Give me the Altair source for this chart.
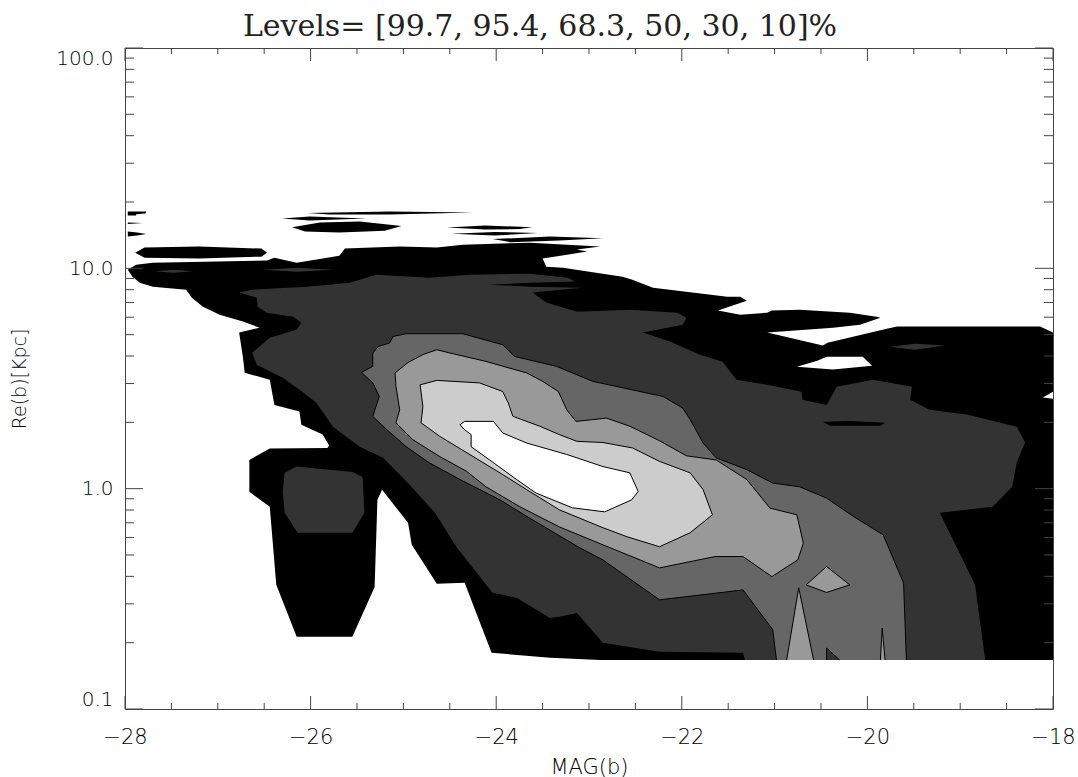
import altair as alt
import pandas as pd

# ---------------- text ----------------
TITLE = "Levels= [99.7, 95.4, 68.3, 50, 30, 10]%"
X_TITLE = "MAG(b)"
Y_TITLE = "Re(b)[Kpc]"

# ---------------- axis ticks ----------------
X_MAJOR = [-28, -26, -24, -22, -20, -18]
X_MINOR = [-27.5, -27, -26.5, -25.5, -25, -24.5, -23.5, -23, -22.5,
           -21.5, -21, -20.5, -19.5, -19, -18.5]
Y_MAJOR = [0.1, 1, 10, 100]
Y_MINOR = [0.2, 0.3, 0.4, 0.5, 0.6, 0.7, 0.8, 0.9,
           2, 3, 4, 5, 6, 7, 8, 9,
           20, 30, 40, 50, 60, 70, 80, 90]

# ---------------- contour polygons (MAG, Re) ----------------
# level 99.7% (black) main region
BLACK_MAIN_MAG = [-27.97, -27.88, -27.70, -26.47, -26.39, -26.15, -25.69, -25.63, -25.04, -24.64,
                  -24.36, -23.64, -22.88, -23.13, -23.02, -23.50, -23.46, -23.28, -22.64, -22.54,
                  -22.31, -21.51, -21.37, -21.30, -21.61, -21.37, -21.08, -21.03, -20.73, -20.19,
                  -19.90, -19.86, -20.08, -20.37, -21.08, -20.48, -20.43, -19.79, -19.68, -18.14,
                  -18.00, -18.00, -22.88, -23.42, -24.05, -24.34, -24.64, -24.91, -24.95, -25.23,
                  -25.28, -25.31, -25.55, -26.15, -26.37, -26.44, -26.66, -26.66, -26.44, -25.82,
                  -25.80, -25.87, -26.10, -26.12, -26.39, -26.44, -26.71, -26.73, -26.77, -26.55,
                  -26.73, -26.98, -27.16, -27.28, -27.34, -27.70, -27.84, -27.92]
BLACK_MAIN_RE = [9.86, 10.39, 10.61, 10.84, 11.18, 10.61, 11.42, 12.29, 12.55, 12.42,
                 12.81, 13.08, 12.55, 12.16, 11.91, 11.07, 10.18, 10.07, 9.17, 8.89,
                 8.17, 7.44, 7.44, 7.13, 6.43, 6.16, 6.29, 6.43, 6.49, 6.29,
                 6.03, 5.97, 5.55, 5.38, 5.11, 4.46, 4.60, 5.32, 5.44, 5.44,
                 5.11, 0.167, 0.167, 0.171, 0.180, 0.374, 0.370, 0.556, 0.700, 0.989,
                 0.890, 0.358, 0.213, 0.213, 0.366, 0.828, 0.968, 1.35, 1.52, 1.53,
                 1.57, 1.76, 1.95, 2.24, 2.40, 3.12, 3.36, 3.97, 5.11, 5.38,
                 5.73, 6.16, 6.70, 7.36, 8.00, 8.26, 8.61, 9.17]
# black strands above the main body
STRAND_B1_MAG = [-27.89, -27.79, -27.20, -26.53, -26.47, -26.53, -27.20, -27.79]
STRAND_B1_RE = [11.78, 12.42, 12.55, 12.29, 11.78, 11.30, 11.07, 11.18]
MARK_1_MAG = [-27.97, -27.77, -27.78, -27.88, -27.88, -27.97]
MARK_1_RE = [18.09, 18.09, 17.72, 17.60, 17.35, 17.35]
MARK_2_MAG = [-27.97, -27.81, -27.97]
MARK_2_RE = [16.13, 16.04, 15.88]
MARK_3_MAG = [-27.97, -27.87, -27.77, -27.87, -27.97]
MARK_3_RE = [14.68, 14.53, 14.30, 14.08, 13.93]
STRAND_A_MAG = [-26.31, -26.01, -25.40, -26.01]
STRAND_A_RE = [16.82, 17.17, 16.82, 16.47]
STRAND_B_MAG = [-26.03, -25.15, -24.25, -25.15, -25.80]
STRAND_B_RE = [17.81, 18.09, 17.90, 17.53, 17.53]
STRAND_C_MAG = [-26.20, -25.90, -25.47, -25.02, -25.20, -25.69, -26.06]
STRAND_C_RE = [15.38, 16.13, 16.30, 15.55, 14.83, 14.53, 14.68]
STRAND_E_MAG = [-24.53, -24.12, -23.61, -23.75, -24.12]
STRAND_E_RE = [15.31, 15.63, 15.38, 15.07, 14.99]
STRAND_F_MAG = [-24.48, -24.02, -23.55, -24.02]
STRAND_F_RE = [14.37, 14.63, 14.45, 14.08]
STRAND_G_MAG = [-24.04, -23.42, -22.85, -23.32, -23.85]
STRAND_G_RE = [13.57, 13.93, 13.71, 13.36, 13.15]
# white holes inside the black region
HOLE_W1_MAG = [-20.76, -20.54, -20.44, -20.05, -19.95, -20.37]
HOLE_W1_RE = [3.58, 3.81, 3.97, 3.97, 3.61, 3.47]
HOLE_W2_MAG = [-18.11, -18.00, -18.00]
HOLE_W2_RE = [2.59, 2.75, 2.56]
# level 95.4% (dark grey)
G333_MAG = [-26.77, -26.63, -26.04, -25.58, -25.29, -24.72, -24.29, -23.64, -23.23, -23.15,
            -23.64, -24.07, -23.64, -23.07, -23.61, -23.46, -23.13, -22.56, -22.05, -21.95,
            -21.99, -22.42, -22.13, -21.81, -21.56, -21.41, -21.08, -20.71, -20.70, -20.44,
            -20.33, -19.94, -19.52, -19.54, -19.33, -18.93, -18.39, -18.30, -18.39, -18.44,
            -18.65, -19.22, -18.84, -18.73, -21.32, -21.34, -22.24, -22.85, -23.13, -23.32,
            -23.42, -23.78, -24.04, -24.43, -24.66, -24.93, -25.22, -25.47, -25.76, -25.94,
            -26.09, -26.30, -26.41, -26.58, -26.63, -26.44, -26.15, -26.10, -26.19, -26.47,
            -26.57, -26.58]
G333_RE = [7.76, 8.00, 8.26, 8.61, 9.36, 9.07, 9.36, 9.46, 9.07, 8.71,
           8.61, 8.43, 8.26, 8.17, 7.76, 6.99, 6.36, 6.49, 6.29, 5.97,
           5.55, 5.11, 4.65, 4.06, 3.77, 3.12, 2.96, 2.75, 2.53, 2.40,
           2.90, 3.12, 2.90, 2.53, 2.28, 2.17, 1.91, 1.62, 1.32, 1.02,
           0.828, 0.777, 0.366, 0.167, 0.167, 0.180, 0.182, 0.200, 0.273, 0.262,
           0.259, 0.320, 0.337, 0.545, 0.777, 1.04, 1.38, 1.55, 1.91, 2.46,
           2.75, 3.19, 3.36, 3.65, 4.14, 4.84, 5.27, 5.67, 6.03, 6.29,
           6.70, 7.36]
ISLAND_1_MAG = [-27.68, -27.48, -27.27, -27.48]
ISLAND_1_RE = [9.71, 9.86, 9.71, 9.56]
ISLAND_2_MAG = [-26.52, -26.14, -25.76, -26.14]
ISLAND_2_RE = [9.86, 10.07, 9.86, 9.66]
ISLAND_3_MAG = [-19.76, -19.49, -19.16, -19.49]
ISLAND_3_RE = [4.41, 4.55, 4.46, 4.27]
BLOB_MAG = [-26.28, -26.15, -25.55, -25.44, -25.42, -25.55, -26.14, -26.28, -26.30]
BLOB_RE = [1.18, 1.26, 1.19, 1.13, 0.777, 0.631, 0.631, 0.777, 0.968]
SLIVER_MAG = [-20.48, -20.19, -19.81, -19.86, -20.40]
SLIVER_RE = [2.01, 2.03, 1.99, 1.93, 1.93]
# level 68.3%
G666_MAG = [-20.98, -21.02, -21.34, -22.24, -22.85, -23.10, -23.39, -23.67, -23.96, -24.39,
            -24.72, -24.97, -25.22, -25.33, -25.26, -25.33, -25.45, -25.33, -25.33, -25.27,
            -25.15, -25.11, -24.97, -24.36, -23.93, -23.80, -23.35, -22.96, -22.20, -21.99,
            -21.91, -21.77, -21.63, -21.30, -21.02, -20.73, -20.44, -20.15, -19.83, -19.61,
            -19.58]
G666_RE = [0.167, 0.229, 0.347, 0.313, 0.475, 0.539, 0.637, 0.748, 0.890, 1.10,
           1.31, 1.55, 1.92, 2.13, 2.62, 3.02, 3.37, 3.59, 4.13, 4.42,
           4.58, 4.91, 5.05, 5.05, 4.50, 3.98, 3.59, 3.07, 2.62, 2.32,
           2.06, 1.61, 1.38, 1.22, 1.06, 1.02, 0.906, 0.748, 0.617, 0.373,
           0.167]
NOTCH_MAG = [-20.44, -20.44, -20.30]
NOTCH_RE = [0.167, 0.189, 0.167]
# level 50%
G999_MAG = [-25.09, -24.95, -24.79, -24.64, -24.50, -24.11, -23.67, -23.50, -23.33, -23.24,
            -23.14, -22.81, -22.56, -22.24, -21.95, -21.63, -21.30, -21.05, -20.76, -20.69,
            -20.75, -21.03, -21.34, -21.64, -22.24, -22.56, -22.85, -23.32, -23.75, -24.11,
            -24.32, -24.61, -24.90, -25.08, -25.04, -25.08]
G999_RE = [3.35, 3.74, 4.06, 4.27, 4.13, 3.78, 3.35, 3.07, 2.76, 2.28,
           2.02, 2.09, 1.92, 1.65, 1.41, 1.35, 1.10, 0.816, 0.761, 0.566,
           0.475, 0.399, 0.492, 0.492, 0.437, 0.496, 0.556, 0.671, 0.830, 1.02,
           1.20, 1.40, 1.67, 1.99, 2.28, 2.91]
SPIKE_1_MAG = [-20.87, -20.74, -20.58]
SPIKE_1_RE = [0.167, 0.355, 0.167]
DIAMOND_MAG = [-20.66, -20.44, -20.19, -20.44]
DIAMOND_RE = [0.366, 0.443, 0.366, 0.338]
SPIKE_2_MAG = [-19.86, -19.84, -19.81]
SPIKE_2_RE = [0.167, 0.233, 0.167]
# level 30%
GCCC_MAG = [-24.82, -24.64, -24.18, -23.93, -23.87, -23.82, -23.53, -23.32, -23.13, -22.85,
            -22.53, -22.24, -21.91, -21.77, -21.67, -21.91, -22.24, -22.59, -22.85, -23.32,
            -23.67, -23.96, -24.25, -24.61, -24.81, -24.79]
GCCC_RE = [2.96, 3.10, 3.02, 2.76, 2.45, 2.13, 1.92, 1.76, 1.64, 1.62,
           1.53, 1.33, 1.18, 0.989, 0.761, 0.631, 0.545, 0.605, 0.665, 0.802,
           0.989, 1.18, 1.40, 1.73, 1.99, 2.36]
# level 10% (white core)
CORE_MAG = [-24.39, -24.34, -24.03, -23.93, -23.67, -23.24, -22.85, -22.56, -22.47, -22.54,
            -22.83, -23.18, -23.57, -23.78, -24.07, -24.27, -24.27, -24.34]
CORE_RE = [1.95, 2.02, 2.02, 1.79, 1.61, 1.43, 1.26, 1.18, 0.971, 0.890,
           0.785, 0.819, 0.955, 1.10, 1.35, 1.55, 1.76, 1.85]

# drawing order (painter's algorithm): (layer, closed outline?, mags, res)
POLYGONS = [
    (0, False, BLACK_MAIN_MAG, BLACK_MAIN_RE),
    (0, False, STRAND_B1_MAG, STRAND_B1_RE),
    (0, False, MARK_1_MAG, MARK_1_RE),
    (0, False, MARK_2_MAG, MARK_2_RE),
    (0, False, MARK_3_MAG, MARK_3_RE),
    (0, False, STRAND_A_MAG, STRAND_A_RE),
    (0, False, STRAND_B_MAG, STRAND_B_RE),
    (0, False, STRAND_C_MAG, STRAND_C_RE),
    (0, False, STRAND_E_MAG, STRAND_E_RE),
    (0, False, STRAND_F_MAG, STRAND_F_RE),
    (0, False, STRAND_G_MAG, STRAND_G_RE),
    (1, False, HOLE_W1_MAG, HOLE_W1_RE),
    (1, False, HOLE_W2_MAG, HOLE_W2_RE),
    (2, False, G333_MAG, G333_RE),
    (2, False, ISLAND_1_MAG, ISLAND_1_RE),
    (2, False, ISLAND_2_MAG, ISLAND_2_RE),
    (2, False, ISLAND_3_MAG, ISLAND_3_RE),
    (2, False, BLOB_MAG, BLOB_RE),
    (3, False, SLIVER_MAG, SLIVER_RE),
    (4, False, G666_MAG, G666_RE),
    (5, False, NOTCH_MAG, NOTCH_RE),
    (6, True, G999_MAG, G999_RE),
    (6, False, SPIKE_1_MAG, SPIKE_1_RE),
    (6, True, DIAMOND_MAG, DIAMOND_RE),
    (6, False, SPIKE_2_MAG, SPIKE_2_RE),
    (7, True, GCCC_MAG, GCCC_RE),
    (8, True, CORE_MAG, CORE_RE),
]
# layer styles: fill, outline colour, outline width
LAYER_STYLE = {
    0: ("#000000", "#000000", 0),
    1: ("#ffffff", "#ffffff", 0),
    2: ("#333333", "#000000", 0),
    3: ("#000000", "#000000", 0),
    4: ("#666666", "#000000", 1),
    5: ("#333333", "#000000", 1),
    6: ("#999999", "#000000", 1),
    7: ("#cccccc", "#000000", 1),
    8: ("#ffffff", "#000000", 1),
}

rows = []
for pid, (layer, closed, mags, res) in enumerate(POLYGONS):
    pts = list(zip(mags, res))
    if closed:
        pts.append(pts[0])
    for i, (m, r) in enumerate(pts):
        rows.append({"pid": pid, "layer": layer, "mag": m, "re": r, "idx": i})
df = pd.DataFrame(rows)

W, H = 928, 661
FONT = "DejaVu Sans"
TXT = "#000000"
LINE = "#444444"

xs = alt.Scale(domain=[-28, -18], nice=False, zero=False)
ys = alt.Scale(type="log", domain=[0.1, 100], nice=False)

xaxis = alt.Axis(values=X_MAJOR, format="d", title=X_TITLE, ticks=False, tickSize=0,
                 domain=False, grid=False, labelFont=FONT, labelFontSize=21,
                 labelFontWeight=200, labelColor=TXT, labelPadding=17, labelFlush=False,
                 titleFont=FONT, titleFontSize=21, titleFontWeight=200, titleColor=TXT,
                 titleY=64, titleBaseline="alphabetic")
yaxis = alt.Axis(values=Y_MAJOR, format=".1f", title=Y_TITLE, ticks=False, tickSize=0,
                 domain=False, grid=False, labelFont=FONT, labelFontSize=20,
                 labelFontWeight=200, labelColor=TXT, labelPadding=12, labelFlush=True,
                 titleFont=FONT, titleFontSize=19, titleFontWeight=200, titleColor=TXT,
                 titleX=-100, titleY=H / 2, titleAngle=270, titleAlign="center",
                 titleBaseline="alphabetic")

X_ENC = alt.X("mag:Q", scale=xs, axis=xaxis)
Y_ENC = alt.Y("re:Q", scale=ys, axis=yaxis)

layers = []
for layer in sorted(LAYER_STYLE):
    fill, stroke, sw = LAYER_STYLE[layer]
    layers.append(
        alt.Chart(df)
        .transform_filter(alt.datum.layer == layer)
        .mark_line(fill=fill, stroke=stroke, strokeWidth=sw, interpolate="linear",
                   strokeJoin="miter")
        .encode(x=X_ENC, y=Y_ENC, detail="pid:N", order="idx:Q")
    )

# inward ticks on all four sides
xmaj = pd.DataFrame({"t": X_MAJOR})
xmin = pd.DataFrame({"t": X_MINOR})
ymaj = pd.DataFrame({"v": Y_MAJOR})
ymin = pd.DataFrame({"v": Y_MINOR})
XT = alt.X("t:Q", scale=xs, axis=xaxis)
YT = alt.Y("v:Q", scale=ys, axis=yaxis)
tick = dict(color=LINE, strokeWidth=1)
layers += [
    alt.Chart(xmaj).mark_rule(**tick).encode(x=XT, y=alt.value(H), y2=alt.value(H - 13)),
    alt.Chart(xmaj).mark_rule(**tick).encode(x=XT, y=alt.value(0), y2=alt.value(13)),
    alt.Chart(xmin).mark_rule(**tick).encode(x=XT, y=alt.value(H), y2=alt.value(H - 6)),
    alt.Chart(xmin).mark_rule(**tick).encode(x=XT, y=alt.value(0), y2=alt.value(6)),
    alt.Chart(ymaj).mark_rule(**tick).encode(y=YT, x=alt.value(0), x2=alt.value(18)),
    alt.Chart(ymaj).mark_rule(**tick).encode(y=YT, x=alt.value(W), x2=alt.value(W - 18)),
    alt.Chart(ymin).mark_rule(**tick).encode(y=YT, x=alt.value(0), x2=alt.value(9)),
    alt.Chart(ymin).mark_rule(**tick).encode(y=YT, x=alt.value(W), x2=alt.value(W - 9)),
]

chart = (
    alt.layer(*layers)
    .properties(
        width=W,
        height=H,
        title=alt.TitleParams(TITLE, font="DejaVu Serif", fontSize=30, fontWeight="normal",
                              color="#222222", anchor="middle", offset=13,
                              baseline="alphabetic", dx=-49, dy=31),
        autosize="none",
        padding={"left": 125, "top": 48, "right": 25, "bottom": 68},
        background="white",
    )
    .configure_view(stroke=LINE, strokeWidth=1)
)

chart.save("out.html", embed_options={"renderer": "svg", "actions": False})
